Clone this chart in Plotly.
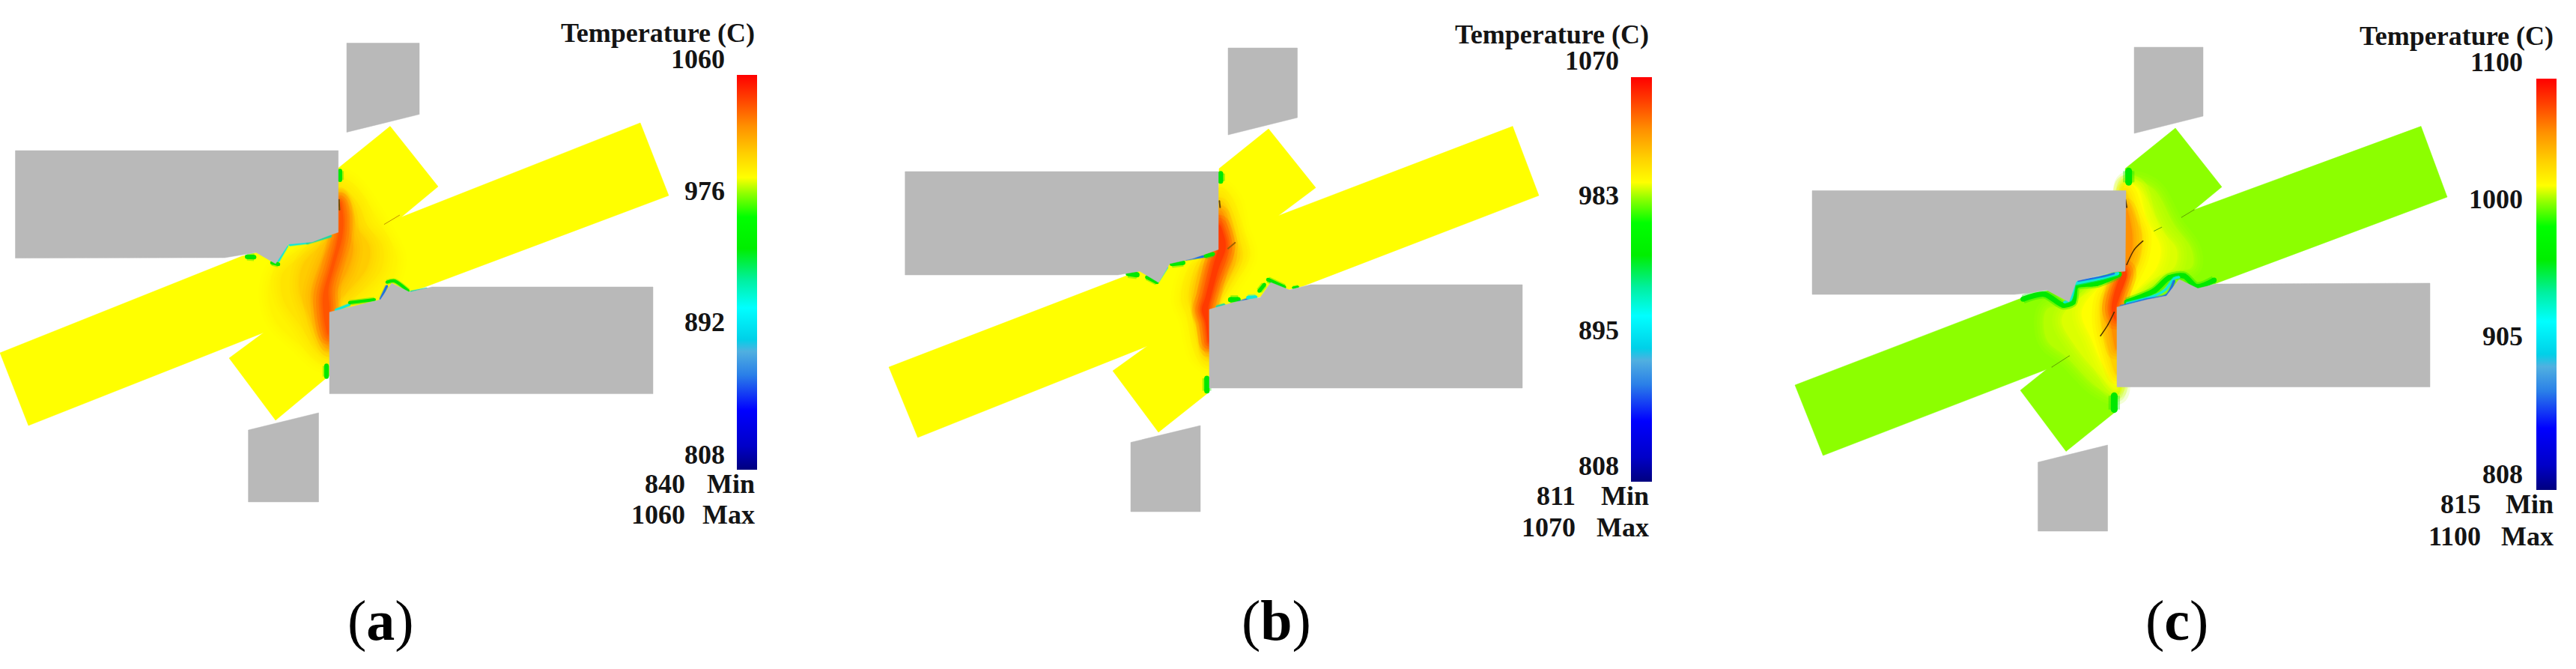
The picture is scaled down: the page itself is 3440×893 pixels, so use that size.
import plotly.graph_objects as go

# ---------- values ----------
COLORSCALE = [[0.0, "#00007f"], [0.06, "#0000c8"], [0.15, "#0000ff"], [0.24, "#2a7fe8"], [0.30, "#50b0e0"],
              [0.33, "#00d0e8"], [0.41, "#00ffff"], [0.48, "#00f0a0"], [0.56, "#00ee00"], [0.64, "#00ff00"],
              [0.70, "#90ff00"], [0.74, "#ffff00"], [0.80, "#ffd000"], [0.87, "#ff9000"], [0.94, "#ff4000"], [1.0, "#ff0000"]]
GRAY = "#b9b9b9"
GREEN, CYAN, BLUE, TEAL = "#00e800", "#10e8d8", "#2070e0", "#20d8a0"

PANELS = ["a", "b", "c"]
TICKS = {"a": [1060, 976, 892, 808], "b": [1070, 983, 895, 808], "c": [1100, 1000, 905, 808]}
MINMAX = {"a": (840, 1060), "b": (811, 1070), "c": (815, 1100)}
BASE = {"a": "#ffff00", "b": "#ffff00", "c": "#8cff00"}

WORK = {
 "a": [(521,168.6),(585,249),(535.6,290),(855,164),(893,261),(565,384),(440,418.6),(440,501),(368,561),(306,478),(352,444),(38,568),(0,471),(323,342),(451,310),(451,225)],
 "b": [(1694,172),(1757,250.6),(1707,288),(2020,168.6),(2055,261),(1740,382),(1615,413),(1615,523),(1547,577),(1486,495),(1532,462),(1225.6,584),(1187,490),(1520,362),(1627,333),(1628,225)],
 "c": [(2905,171),(2967,249.5),(2930,280),(3233,168.6),(3268,263),(2960,378),(2827,410),(2827,548),(2759,602.5),(2698,521),(2733,493),(2434.5,608),(2397,514),(2702,397),(2838,360),(2838,225)],
}
BLOCKS = {
 "a": [[(463,57.5),(560,57.5),(560,152.6),(463,176.5)],
       [(331.6,574),(425.5,551),(425.5,670),(331.6,670)],
       [(20.5,201),(451.7,201),(451.7,310),(443,313),(417,323),(385,326),(368,352),(342,337),(300,344),(20.5,344.5)],
       [(440,416.7),(447,415),(500,401.7),(508,400),(523,378),(547,390),(577,383),(872,383),(872,525.6),(440,525.6)]],
 "b": [[(1640,64),(1732.5,64),(1732.5,157),(1640,180)],
       [(1510,590.5),(1603,568),(1603,683),(1510,683)],
       [(1208.7,229),(1627,229),(1627,333),(1613,338),(1593,345),(1562,352),(1547,377),(1522,362),(1493,367),(1208.7,367)],
       [(1615,413),(1650,403),(1683,397),(1697,377),(1722,387),(1750,380),(2033,380),(2033,518),(1615,518)]],
 "c": [[(2850,63),(2942,63),(2942,155),(2850,178)],
       [(2721.5,617),(2814.5,594),(2814.5,709),(2721.5,709)],
       [(2420,254.5),(2839,254.5),(2838,362),(2823,363),(2773,375),(2763,403),(2733,387),(2710,391),(2690,393),(2420,393)],
       [(2827,410),(2867,400),(2893,395),(2910,373),(2935,385),(2960,379),(3245,378),(3245,516.5),(2827,516.5)]],
}
# crop origins of the hand-read isotherms and edge traces (crop pixels are 1/3 of a picture pixel)
CROP = {"a": (300, 200), "b": (1450, 200), "c": (2700, 200)}
ISOTHERMS = {
 "a": [("#fff400", [(462,110),(520,140),(590,240),(650,340),(690,430),(670,520),(600,610),(500,640),(430,660),(425,850),(380,850),(300,780),(200,680),(175,560),(210,465),(300,400),(400,350),(450,300),(455,180)]),
       ("#ffe400", [(462,150),(530,210),(570,300),(630,380),(630,470),(560,560),(460,630),(425,700),(420,830),(370,800),(300,700),(235,600),(230,500),(300,430),(400,360),(450,320)]),
       ("#ffcc00", [(462,190),(510,250),(530,310),(580,390),(570,470),(500,560),(430,640),(420,800),(385,770),(335,660),(300,560),(315,460),(400,370),(450,320)]),
       ("#ffac00", [(460,190),(490,250),(500,330),(515,400),(495,480),(440,580),(425,640),(420,790),(395,750),(365,660),(350,580),(380,470),(430,370),(455,330)]),
       ("#ff8400", [(460,195),(480,260),(480,340),(470,420),(430,530),(425,640),(418,770),(400,730),(385,650),(385,570),(420,460),(450,350)]),
       ("#ff5400", [(465,210),(475,280),(470,350),(440,460),(415,560),(420,640),(415,740),(403,700),(395,640),(395,580),(425,470),(455,350)])],
 "b": [("#fff200", [(535,150),(590,200),(620,320),(650,420),(600,520),(520,630),(495,650),(495,860),(450,830),(410,680),(380,600),(420,470),(510,410),(530,300)]),
       ("#ffdc00", [(535,190),(575,260),(600,340),(620,420),(570,510),(500,630),(495,840),(465,780),(440,650),(420,590),(450,480),(520,410)]),
       ("#ffb400", [(535,230),(565,300),(580,370),(590,430),(540,530),(500,620),(495,810),(475,730),(460,640),(450,590),(480,470),(525,410)]),
       ("#ff7800", [(535,260),(555,320),(570,380),(560,450),(520,540),(495,630),(494,790),(478,700),(460,640),(470,580),(505,440),(530,400)]),
       ("#ff3a00", [(535,300),(552,340),(560,390),(530,480),(500,590),(490,635),(492,770),(480,690),(465,640),(480,590),(515,450),(530,400)])],
 "c": [("#b4ff00", [(415,130),(520,150),(610,300),(680,400),(680,470),(560,490),(420,610),(380,640),(385,980),(300,950),(180,830),(100,760),(100,640),(200,620),(350,510),(415,480)]),
       ("#dcff00", [(415,140),(480,170),(560,320),(620,400),(610,470),(540,510),(400,620),(380,960),(310,900),(210,780),(160,680),(210,610),(340,530),(415,470)]),
       ("#ffff00", [(415,140),(460,150),(500,280),(555,390),(540,470),(470,550),(390,630),(380,940),(330,870),(280,760),(240,650),(300,560),(390,500)]),
       ("#ffd000", [(415,170),(450,260),(480,340),(470,430),(420,540),(395,620),(380,900),(345,800),(320,690),(330,590),(390,500)]),
       ("#ff9000", [(415,230),(440,320),(440,410),(410,500),(390,610),(378,800),(360,720),(350,620),(380,520)]),
       ("#ff4000", [(415,480),(420,500),(390,590),(375,640),(375,680),(360,640),(385,530)])],
}
EDGES = {
 "a": [(GREEN,6,[(90,428),(118,430)]),(GREEN,5,[(190,452),(215,458)]),(CYAN,3,[(215,445),(250,385)]),(CYAN,3,[(260,380),(330,372)]),(TEAL,3,[(330,374),(425,345)]),
       (GREEN,6,[(462,85),(462,120)]),(GREEN,6,[(408,865),(408,908)]),(CYAN,3,[(445,642),(500,620)]),(GREEN,4,[(500,612),(600,600)]),(BLUE,3,[(625,598),(650,545)]),(GREEN,4,[(650,530),(680,525),(735,565)]),(TEAL,2,[(745,568),(810,555)])],
 "b": [(GREEN,7,[(170,495),(205,500)]),(GREEN,5,[(245,510),(285,530)]),(CYAN,3,[(290,525),(325,470)]),(GREEN,6,[(345,457),(390,452)]),(BLUE,3,[(400,438),(480,425)]),(GREEN,5,[(480,425),(510,417)]),
       (GREEN,7,[(540,95),(540,125)]),(GREEN,7,[(485,915),(485,965)]),(TEAL,3,[(525,628),(555,620)]),(GREEN,7,[(580,600),(610,600)]),(BLUE,3,[(610,612),(650,598)]),(CYAN,5,[(650,592),(680,590)]),(GREEN,5,[(695,565),(715,540)]),(GREEN,5,[(730,520),(795,550)]),(GREEN,3,[(830,552),(850,548)])],
 "c": [(GREEN,7,[(5,598),(90,578),(165,622),(205,610),(218,545),(300,535),(390,498)]),(CYAN,3,[(170,610),(195,600),(210,540)]),(CYAN,4,[(215,535),(310,515),(385,495)]),(BLUE,2,[(225,525),(320,508),(370,495)]),
       (GREEN,9,[(428,85),(428,130)]),(GREEN,9,[(370,985),(370,1040)]),(GREEN,7,[(420,610),(530,565),(590,512),(650,505),(700,548),(770,522)]),(CYAN,3,[(420,615),(530,585),(575,560),(610,515),(630,510)]),(BLUE,3,[(395,628),(500,600),(580,582),(610,525)])],
}
CRACKS = {
 "a": [("#c09000",1,[(700,262),(640,298)]),("#6a4a00",2,[(458,200),(460,240)])],
 "b": [("#a06000",2,[(598,372),(570,395)]),("#6a4a00",2,[(535,205),(538,230)])],
 "c": [("#503000",1.5,[(485,365),(450,400),(420,460)]),("#503000",1.5,[(370,650),(345,700),(315,745)]),("#60a000",1,[(690,240),(640,270)]),("#60a000",1,[(560,310),(530,325)]),("#60a000",1,[(190,825),(120,870)]),("#503000",2,[(415,200),(420,230)])],
}
BARS = {"a": (984, 1011, 100, 627), "b": (2178, 2206, 102.5, 642), "c": (3386.5, 3413, 105, 654)}
TITLE_POS = {"a": (1010, 44), "b": (2204, 46), "c": (3412, 48)}
TICK_POS = {"a": (970, [78.6, 254.6, 430, 607]), "b": (2164, [81, 261, 441, 622]), "c": (3371, [83, 266, 449, 633])}
MM_POS = {"a": (917, 1010, 646, 687), "b": (2106, 2204, 662, 704), "c": (3315, 3412, 673, 716)}
CAPTION_POS = {"a": (508, 828), "b": (1704, 828), "c": (2907, 828)}

W, H = 3440, 893
FONT = "Liberation Serif"
fig = go.Figure()


def rgba(hex_color, alpha):
    r, g, b = (int(hex_color[i:i + 2], 16) for i in (1, 3, 5))
    return f"rgba({r},{g},{b},{alpha})"


def poly(points, color, spline=False, feather=False):
    xs = [p[0] for p in points] + [points[0][0]]
    ys = [p[1] for p in points] + [points[0][1]]
    shape = "spline" if spline else "linear"
    if feather:
        for w, a in ((26, 0.16), (18, 0.2), (11, 0.25), (5, 0.35)):
            fig.add_trace(go.Scatter(x=xs, y=ys, mode="lines", line=dict(color=rgba(color, a), width=w, shape=shape, smoothing=1.0),
                                     hoverinfo="skip", showlegend=False))
    fig.add_trace(go.Scatter(x=xs, y=ys, mode="lines", fill="toself", fillcolor=color,
                             line=dict(color=color, width=0.5, shape=shape, smoothing=1.0),
                             hoverinfo="skip", showlegend=False))


def crop(points, panel):
    ox, oy = CROP[panel]
    return [(ox + x / 3, oy + y / 3) for x, y in points]


def stroke(points, color, width, soft=False):
    xs, ys = [p[0] for p in points], [p[1] for p in points]
    if soft:
        fig.add_trace(go.Scatter(x=xs, y=ys, mode="lines", line=dict(color=rgba(color, 0.35), width=width * 1.7, shape="spline", smoothing=0.8),
                                 hoverinfo="skip", showlegend=False))
    fig.add_trace(go.Scatter(x=xs, y=ys, mode="lines+markers", line=dict(color=color, width=width, shape="spline", smoothing=0.8),
                             marker=dict(color=color, size=width, line=dict(width=0)), hoverinfo="skip", showlegend=False))


ann = []


def label(x, y, text, anchor="right", size=36):
    ann.append(dict(x=x, y=y, xref="x", yref="y", text=f"<b>{text}</b>", showarrow=False,
                    xanchor=anchor, yanchor="middle", font=dict(family=FONT, size=size, color="#141414")))


for p in PANELS:
    poly(WORK[p], BASE[p])
    for color, pts in ISOTHERMS[p]:
        poly(crop(pts, p), color, spline=True, feather=True)
    for color, width, pts in CRACKS[p]:
        stroke(crop(pts, p), color, width)
    for color, width, pts in EDGES[p]:
        stroke(crop(pts, p), color, width, soft=True)
    for block in BLOCKS[p]:
        poly(block, GRAY)

    # colour bar
    x0, x1, y0, y1 = BARS[p]
    lo, hi = TICKS[p][-1], TICKS[p][0]
    fig.add_trace(go.Scatter(x=[x0, x0], y=[y0, y0], mode="markers", hoverinfo="skip", showlegend=False,
                             marker=dict(size=1, opacity=0, color=[lo, hi], cmin=lo, cmax=hi, colorscale=COLORSCALE, showscale=True,
                                         colorbar=dict(x=x0 / W, xanchor="left", y=1 - y0 / H, yanchor="top",
                                                       len=y1 - y0, lenmode="pixels", thickness=x1 - x0, thicknessmode="pixels",
                                                       xpad=0, ypad=0, outlinewidth=0, borderwidth=0, ticks="", showticklabels=False))))
    tx, ty = TITLE_POS[p]
    label(tx, ty, "Temperature (C)")
    lx, lys = TICK_POS[p]
    for v, ly in zip(TICKS[p], lys):
        label(lx, ly, str(v))
    nx, tx2, ymin, ymax = MM_POS[p]
    label(nx, ymin, str(MINMAX[p][0]))
    label(tx2, ymin, "Min")
    label(nx, ymax, str(MINMAX[p][1]))
    label(tx2, ymax, "Max")
    cx, cy = CAPTION_POS[p]
    ann.append(dict(x=cx, y=cy, xref="x", yref="y", text=f"(<b>{p}</b>)", showarrow=False, xanchor="center", yanchor="middle",
                    font=dict(family=FONT, size=76, color="#000000")))

fig.update_layout(width=W, height=H, margin=dict(l=0, r=0, t=0, b=0, autoexpand=False), paper_bgcolor="white", plot_bgcolor="white",
                  xaxis=dict(range=[0, W], visible=False, fixedrange=True),
                  yaxis=dict(range=[H, 0], visible=False, fixedrange=True),
                  annotations=ann, showlegend=False)
fig.write_html("out.html", config={"displayModeBar": False},
               post_script="document.body.style.margin='0';document.body.style.background='white';")
